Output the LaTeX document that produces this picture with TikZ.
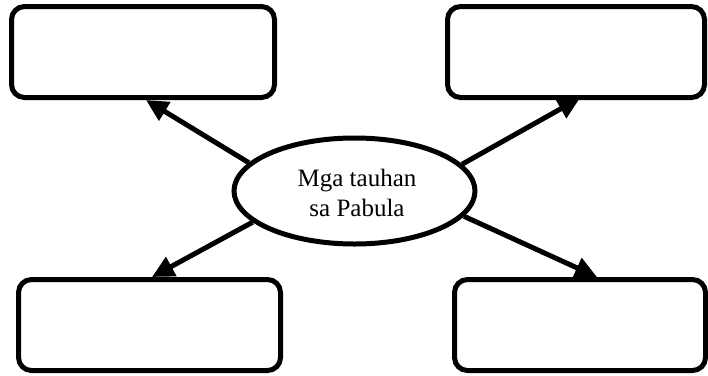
\documentclass[tikz,border=0pt]{standalone}
\usepackage{fontspec}
\setmainfont{Liberation Serif}
\usetikzlibrary{shapes.geometric,arrows.meta}
\begin{document}
\begin{tikzpicture}[x=1pt,y=-1pt,
  boxstyle/.style={draw=black,line width=5pt,rounded corners=13pt,fill=white},
  ellstyle/.style={draw=black,line width=5pt,ellipse,minimum width=241pt,minimum height=106pt,inner sep=0pt},
  arr/.style={line width=5pt,-{Triangle[length=22pt,width=21pt]}},
  lbl/.style={font=\fontsize{25pt}{30pt}\selectfont,align=center,inner sep=0pt}]
\useasboundingbox (0,0) rectangle (708,375);
% boxes
\draw[boxstyle] (11.5,6.5) rectangle (274.5,97.5);
\draw[boxstyle] (447.5,6.5) rectangle (704.5,97.5);
\draw[boxstyle] (18.5,279.5) rectangle (280.5,370.5);
\draw[boxstyle] (454.5,279.5) rectangle (705.5,370.5);
\node[ellstyle] (e) at (354.5,191) {};
\node[lbl] (t) at (357,193) {Mga tauhan\\sa Pabula};
% arrow tips on the boxes
\coordinate (a1) at (146,100);
\coordinate (a2) at (580,98);
\coordinate (a3) at (152,277);
\coordinate (a4) at (597,277);
\draw[arr] (e.165) -- (a1);
\draw[arr] (e.14.5) -- (a2);
\draw[arr] (e.197) -- (a3);
\draw[arr] (e.-13) -- (a4);
\end{tikzpicture}
\end{document}
